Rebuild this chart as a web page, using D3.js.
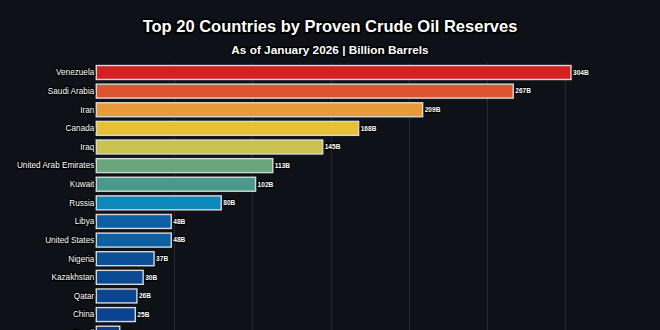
<!DOCTYPE html>
<html>
<head>
<meta charset="utf-8">
<script src="https://cdn.jsdelivr.net/npm/d3@7"></script>
<style>
  html, body { margin: 0; padding: 0; background: #0e1117; overflow: hidden; }
  svg { display: block; }
</style>
</head>
<body>
<div id="chart"></div>
<script>
const countries = ["Venezuela", "Saudi Arabia", "Iran", "Canada", "Iraq", "United Arab Emirates",
  "Kuwait", "Russia", "Libya", "United States", "Nigeria", "Kazakhstan", "Qatar", "China",
  "Brazil", "Algeria", "Guyana", "Ecuador", "Norway", "Angola"];
const reserves = [304, 267, 209, 168, 145, 113, 102, 80, 48, 48, 37, 30, 26, 25, 15, 12, 11, 8, 8, 7];
const valueLabels = ["304B", "267B", "209B", "168B", "145B", "113B", "102B", "80B", "48B", "48B",
  "37B", "30B", "26B", "25B", "15B", "12B", "11B", "8B", "8B", "7B"];
const xTicks = [50, 100, 150, 200, 250, 300];
const barColors = ["#d42020", "#dd5530", "#e89a38", "#e8c035", "#c9c24e", "#6aa57c", "#4a9a8c",
  "#0e88b8", "#0d5fa3", "#0d5fa3", "#0b4f96", "#0a4a92", "#0a4590", "#0a4490", "#0a3f8a",
  "#0a3c86", "#0a3a84", "#093782", "#093580", "#08337e"];

const W = 660, H = 460;
const svg = d3.select("#chart").append("svg").attr("width", W).attr("height", H);

const x = d3.scaleLinear().domain([0, 334.4]).range([96.3, 96.3 + 334.4 * 1.5615]);
const y = d3.scaleBand().domain(countries).range([63.2, 63.2 + 20 * 18.62])
  .paddingInner(0.25).paddingOuter(0.125);

const FONT = "Liberation Sans, Arial, sans-serif";

// title
svg.append("text").attr("x", 330).attr("y", 32).attr("text-anchor", "middle")
  .attr("font-family", FONT).attr("font-weight", "bold")
  .attr("font-size", 16.5).attr("fill", "#ffffff")
  .attr("stroke", "#000").attr("stroke-width", 4).attr("stroke-linejoin", "round")
  .attr("paint-order", "stroke")
  .text("Top 20 Countries by Proven Crude Oil Reserves");
svg.append("text").attr("x", 330).attr("y", 54).attr("text-anchor", "middle")
  .attr("font-family", FONT).attr("font-weight", "bold")
  .attr("font-size", 11.8).attr("fill", "#ffffff")
  .attr("stroke", "#000").attr("stroke-width", 3.2).attr("stroke-linejoin", "round")
  .attr("paint-order", "stroke")
  .text("As of January 2026 | Billion Barrels");

// gridlines
svg.append("g").selectAll("line").data(xTicks).join("line")
  .attr("x1", d => Math.round(x(d)) + 0.5).attr("x2", d => Math.round(x(d)) + 0.5)
  .attr("y1", y.range()[0]).attr("y2", y.range()[1])
  .attr("stroke", "#262a33").attr("stroke-width", 1);

// bars
svg.append("g").selectAll("rect").data(countries).join("rect")
  .attr("x", x(0))
  .attr("y", d => y(d))
  .attr("width", (d, i) => x(reserves[i]) - x(0))
  .attr("height", y.bandwidth())
  .attr("fill", (d, i) => barColors[i])
  .attr("stroke", "#d8d8d8").attr("stroke-width", 1.4);

// country labels
svg.append("g").selectAll("text").data(countries).join("text")
  .attr("x", x(0) - 2)
  .attr("y", d => y(d) + y.bandwidth() / 2)
  .attr("dy", "0.35em")
  .attr("text-anchor", "end")
  .attr("font-family", FONT)
  .attr("font-size", 8.2)
  .attr("fill", "#ffffff")
  .attr("stroke", "#000").attr("stroke-width", 2.6).attr("stroke-linejoin", "round")
  .attr("paint-order", "stroke")
  .text(d => d);

// value labels
svg.append("g").selectAll("text").data(countries).join("text")
  .attr("x", (d, i) => x(reserves[i]) + 2)
  .attr("y", d => y(d) + y.bandwidth() / 2)
  .attr("dy", "0.35em")
  .attr("font-family", FONT)
  .attr("font-weight", "bold")
  .attr("font-size", 6.6)
  .attr("fill", "#ffffff")
  .attr("stroke", "#000").attr("stroke-width", 2.4).attr("stroke-linejoin", "round")
  .attr("paint-order", "stroke")
  .text((d, i) => valueLabels[i]);
</script>
</body>
</html>
